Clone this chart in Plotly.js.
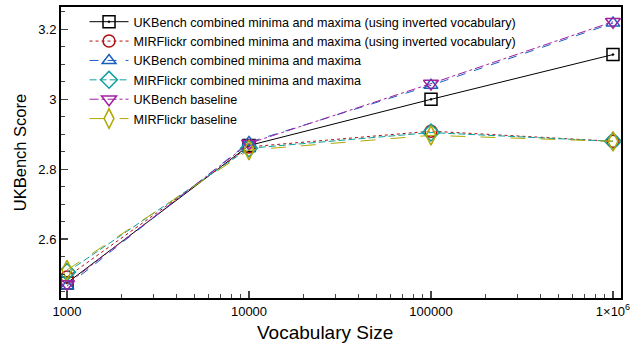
<!DOCTYPE html>
<html><head><meta charset="utf-8">
<script src="https://cdn.plot.ly/plotly-3.0.1.min.js"></script>
<style>html,body{margin:0;padding:0;background:#fff}#c{width:644px;height:347px}</style>
</head><body><div id="c"></div>
<script>
const vocab = [1000, 10000, 100000, 1000000];
const ukInv = [2.475, 2.868, 3.000, 3.128];
const mirInv = [2.492, 2.864, 2.909, 2.880];
const ukComb = [2.466, 2.877, 3.040, 3.218];
const mirComb = [2.506, 2.860, 2.905, 2.880];
const ukBase = [2.472, 2.874, 3.045, 3.222];
const mirBase = [2.512, 2.855, 2.897, 2.880];
const names = [
  'UKBench combined minima and maxima (using inverted vocabulary)',
  'MIRFlickr combined minima and maxima (using inverted vocabulary)',
  'UKBench combined minima and maxima',
  'MIRFlickr combined minima and maxima',
  'UKBench baseline',
  'MIRFlickr baseline'
];
const xTickVals = [1000, 10000, 100000, 1000000];
const xTickText = ['1000', '10000', '100000', '1×10<sup>6</sup>'];
const yTickVals = [2.6, 2.8, 3.0, 3.2];
const yTickText = ['2.6', '2.8', '3', '3.2'];

const series = [ukInv, mirInv, ukComb, mirComb, ukBase, mirBase];
const colors = ['#000000', '#b01010', '#1a5fc0', '#10a0a0', '#a020a0', '#b0a800'];
const dashes = ['solid', 'dot', 'dash', '7px,3px', 'dashdot', 'longdash'];
const symbols = ['square-open-dot', 'circle-open', 'triangle-up-open', 'diamond-open', 'triangle-down-open', 'diamond-tall-open'];
const sizes = [12, 12, 12, 13, 13, 14];

const traces = series.map((ys, i) => ({
  x: vocab, y: ys, name: names[i], type: 'scatter', mode: 'lines+markers',
  line: {color: colors[i], width: 1, dash: dashes[i]},
  marker: {symbol: symbols[i], size: sizes[i], color: colors[i], line: {width: 1.5, color: colors[i]}}
}));

const layout = {
  width: 644, height: 347,
  margin: {l: 61, r: 23, t: 7, b: 49},
  paper_bgcolor: '#fff', plot_bgcolor: '#fff',
  font: {family: 'Liberation Sans, Arial, sans-serif', color: '#000'},
  showlegend: true,
  legend: {x: 0.042, y: 1, xanchor: 'left', yanchor: 'top', bgcolor: 'rgba(255,255,255,0)',
           font: {size: 12.6}, tracegroupgap: 0, itemwidth: 39},
  xaxis: {
    type: 'log', range: [Math.log10(1000) - 0.033, Math.log10(1e6) + 0.044],
    tickvals: xTickVals, ticktext: xTickText, ticks: 'inside', ticklen: 7, tickwidth: 1.5,
    showgrid: false, zeroline: false, showline: true, linewidth: 2, linecolor: '#000', mirror: true,
    tickfont: {size: 13},
    minor: {ticks: 'inside', ticklen: 4, tickwidth: 1, dtick: 'D1', showgrid: false}
  },
  yaxis: {
    range: [2.432, 3.264],
    tickvals: yTickVals, ticktext: yTickText, ticks: 'inside', ticklen: 7, tickwidth: 1.5,
    showgrid: false, zeroline: false, showline: true, linewidth: 2, linecolor: '#000', mirror: true,
    tickfont: {size: 13},
    minor: {ticks: 'inside', ticklen: 4, tickwidth: 1, dtick: 0.05, showgrid: false},
    title: {text: 'UKBench Score', font: {size: 16.5}, standoff: 8}
  },
  annotations: [{
    text: 'Vocabulary Size', xref: 'paper', yref: 'paper',
    x: (325 - 61) / 560, y: -(332 - 298) / 291, xanchor: 'center', yanchor: 'middle',
    showarrow: false, font: {size: 19}
  }]
};
Plotly.newPlot('c', traces, layout, {displayModeBar: false, staticPlot: true});
</script></body></html>
